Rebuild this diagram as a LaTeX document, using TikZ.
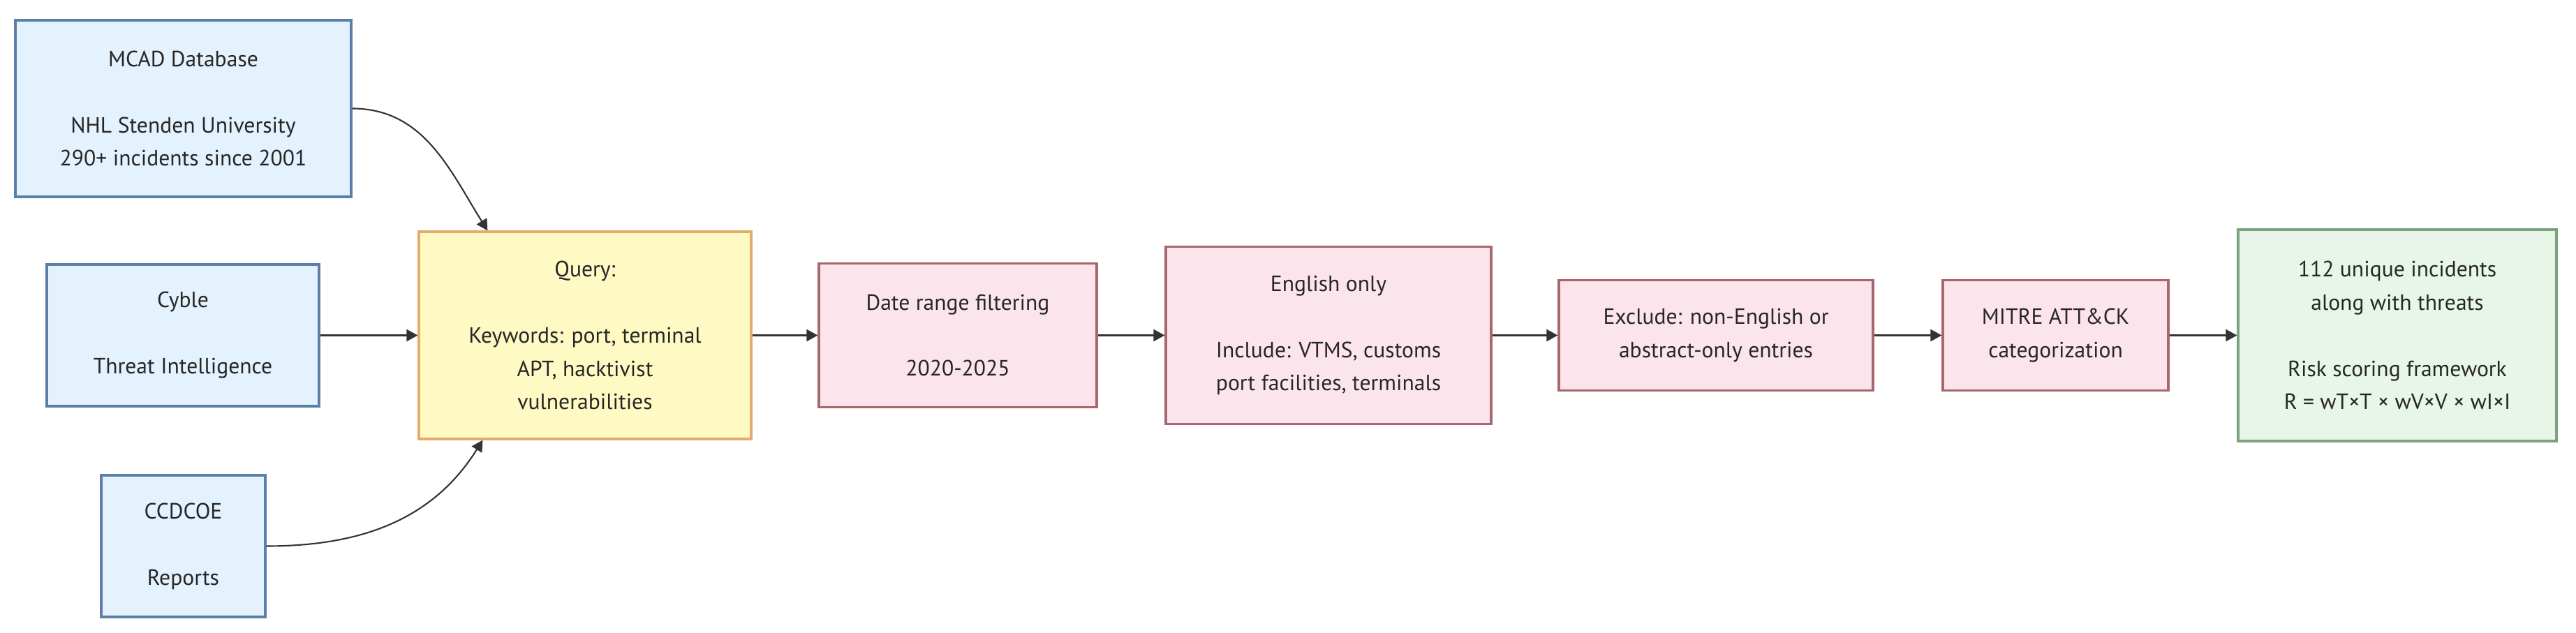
\documentclass[tikz,border=0pt]{standalone}
\usepackage{fontspec}
\setmainfont{PT Sans}
\usetikzlibrary{arrows.meta,positioning,calc}

\definecolor{srcfill}{HTML}{E3F2FD}
\definecolor{srcline}{HTML}{5B7FA6}
\definecolor{qryfill}{HTML}{FFF9C4}
\definecolor{qryline}{HTML}{E2AC6A}
\definecolor{stepfill}{HTML}{FCE4EC}
\definecolor{stepline}{HTML}{A8666E}
\definecolor{outfill}{HTML}{E8F5E9}
\definecolor{outline}{HTML}{7BA37D}
\definecolor{wire}{HTML}{333333}

\begin{document}
\begin{tikzpicture}[>={Triangle[length=1.6mm,width=1.7mm]}, line width=0.6pt,
  box/.style={draw, line width=0.9pt, align=center, inner sep=0pt,
    text=black!85, font=\fontsize{9}{13.5}\selectfont},
  srcbox/.style={box, fill=srcfill, draw=srcline},
  qrybox/.style={box, fill=qryfill, draw=qryline},
  stepbox/.style={box, fill=stepfill, draw=stepline},
  outbox/.style={box, fill=outfill, draw=outline},
  flow/.style={->, draw=wire}]
  \useasboundingbox (0,0) rectangle (36.9,9.06);

  % sources
  \node[srcbox, minimum width=4.81cm, minimum height=2.53cm] (mcad) at (2.625,7.505)
    {MCAD Database\\[13.5pt]NHL Stenden University\\290+ incidents since 2001};
  \node[srcbox, minimum width=3.90cm, minimum height=2.03cm] (cyble) at (2.62,4.255)
    {Cyble\\[13.5pt]Threat Intelligence};
  \node[srcbox, minimum width=2.35cm, minimum height=2.03cm] (ccdcoe) at (2.625,1.235)
    {CCDCOE\\[13.5pt]Reports};

  % pipeline
  \node[qrybox, minimum width=4.76cm, minimum height=2.97cm] (query) at (8.38,4.255)
    {Query:\\[13.5pt]Keywords: port, terminal\\APT, hacktivist\\vulnerabilities};
  \node[stepbox, minimum width=3.98cm, minimum height=2.06cm] (daterange) at (13.72,4.255)
    {Date range filtering\\[13.5pt]2020-2025};
  \node[stepbox, minimum width=4.66cm, minimum height=2.54cm] (english) at (19.03,4.255)
    {English only\\[13.5pt]Include: VTMS, customs\\port facilities, terminals};
  \node[stepbox, minimum width=4.50cm, minimum height=1.58cm] (exclude) at (24.58,4.255)
    {Exclude: non-English or\\abstract-only entries};
  \node[stepbox, minimum width=3.23cm, minimum height=1.58cm] (mitre) at (29.445,4.255)
    {MITRE ATT\&CK\\categorization};
  \node[outbox, minimum width=4.56cm, minimum height=3.03cm] (result) at (34.34,4.255)
    {112 unique incidents\\along with threats\\[13.5pt]Risk scoring framework\\R = wT×T × wV×V × wI×I};

  % connectors
  \draw[flow] (mcad.east) to[out=0,in=122] ([xshift=1cm]query.north west);
  \draw[flow] (cyble) -- (query);
  \draw[flow] (ccdcoe.east) to[out=0,in=-122] ([xshift=0.93cm]query.south west);
  \draw[flow] (query) -- (daterange);
  \draw[flow] (daterange) -- (english);
  \draw[flow] (english) -- (exclude);
  \draw[flow] (exclude) -- (mitre);
  \draw[flow] (mitre) -- (result);
\end{tikzpicture}
\end{document}
